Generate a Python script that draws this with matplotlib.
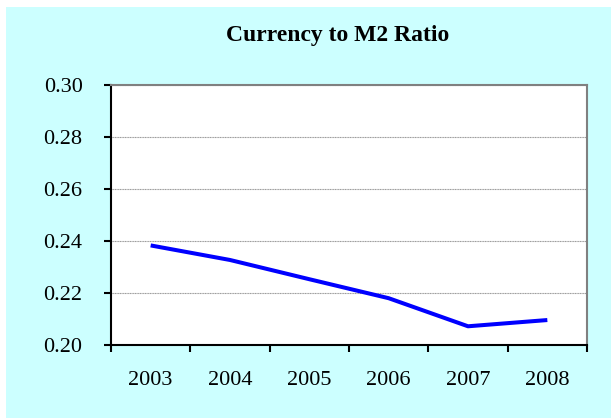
import matplotlib
matplotlib.use("Agg")
import matplotlib.pyplot as plt
from matplotlib.patches import Rectangle
from matplotlib.ticker import FixedLocator
import numpy as np

years = ["2003", "2004", "2005", "2006", "2007", "2008"]
ratio = [0.2383, 0.2327, 0.2253, 0.2180, 0.2072, 0.2096]
yticks = [0.20, 0.22, 0.24, 0.26, 0.28, 0.30]

plt.rcParams["font.family"] = ["Liberation Serif", "DejaVu Serif"]

W, H = 611, 419
fig = plt.figure(figsize=(W / 100, H / 100), dpi=100)
fig.patch.set_facecolor("white")

# cyan chart area behind everything
bg = Rectangle((6 / W, 1 - 418 / H), 605 / W, 411 / H,
               transform=fig.transFigure, facecolor="#CCFFFF",
               edgecolor="none", zorder=-10)
fig.patches.append(bg)

ax = fig.add_axes([111 / W, 1 - 345 / H, 476 / W, 260 / H])
ax.set_facecolor("white")

x = np.arange(len(years))
ax.plot(x, ratio, color="#0000FF", linewidth=2.9, solid_capstyle="butt")

ax.set_xlim(-0.5, len(years) - 0.5)
ax.set_ylim(0.20, 0.30)
ax.set_yticks(yticks)
ax.set_yticklabels(["%.2f" % v for v in yticks])
ax.grid(axis="y", color="#999999", linestyle=(0, (1, 0.5)), linewidth=0.8)
ax.set_axisbelow(True)

ax.set_xticks(x)
ax.set_xticklabels(years)
ax.xaxis.set_minor_locator(FixedLocator(np.arange(-0.5, len(years), 1.0)))
ax.tick_params(axis="x", which="major", length=0, pad=19, labelsize=16)
ax.tick_params(axis="x", which="minor", length=5, width=1.5, direction="out")
ax.tick_params(axis="y", length=5, width=1.5, direction="out", pad=15.5, labelsize=16)

for side in ["top", "right"]:
    ax.spines[side].set_color("#808080")
    ax.spines[side].set_linewidth(1.5)
for side in ["left", "bottom"]:
    ax.spines[side].set_color("black")
    ax.spines[side].set_linewidth(1.5)

fig.text(338 / W, 1 - 35 / H, "Currency to M2 Ratio", ha="center", va="center",
         fontsize=17, fontweight="bold")

fig.savefig("out.png", dpi=100)
